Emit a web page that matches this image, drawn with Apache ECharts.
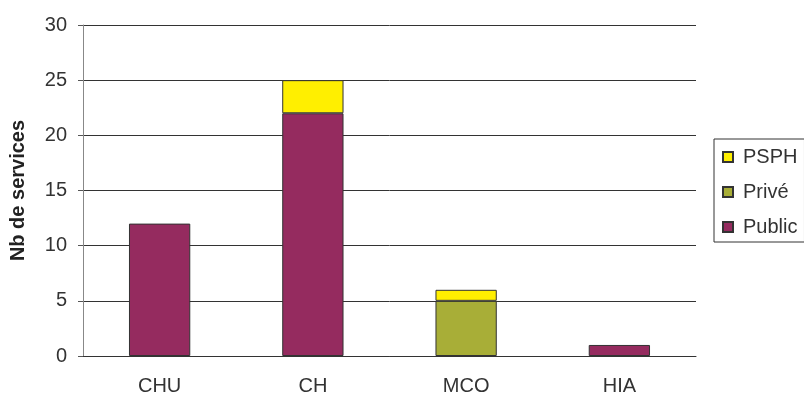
<!DOCTYPE html>
<html>
	<head>
		<meta charset="utf-8" />
		<title></title>
		<script src="https://cdn.jsdelivr.net/npm/echarts@6/dist/echarts.min.js"></script>
		<style>
			body{ margin:0; background:#fff; }
			#chart{ width:804px; height:396px; }
		</style>
	</head>
	<body>
		<div id="chart"></div>
		<script>
			// données
			var categories = ['CHU', 'CH', 'MCO', 'HIA'];
			var publicVals = [12, 22, '-', 1];
			var priveVals = ['-', '-', 5, '-'];
			var psphVals = ['-', 3, 1, '-'];
			var yTicks = { min: 0, max: 30, step: 5 };

			var font = 'Liberation Sans, Arial, sans-serif';
			var chart = echarts.init(document.getElementById('chart'));

			function barSerie(name, data, color){
				return {
					name: name,
					type: 'bar',
					stack: 'total',
					barWidth: '40%',
					data: data,
					itemStyle: { color: color, borderColor: '#333', borderWidth: 1 },
					emphasis: { disabled: true }
				};
			}

			var option = {
				animation: false,
				textStyle: { fontFamily: font },
				grid: { left: 83, right: 108, top: 25, bottom: 37 },
				legend: {
					orient: 'vertical',
					left: 714,
					top: 139,
					padding: [8, 7, 5, 8],
					itemGap: 15,
					itemWidth: 10,
					itemHeight: 10,
					icon: 'rect',
					borderColor: '#333',
					borderWidth: 1,
					data: ['PSPH', 'Privé', 'Public'],
					textStyle: { fontSize: 20, color: '#333', fontFamily: font, padding: [0, 0, 0, 5] }
				},
				xAxis: {
					type: 'category',
					data: categories,
					axisLine: { lineStyle: { color: '#333' } },
					axisTick: { length: 5, lineStyle: { color: '#333' } },
					axisLabel: { fontSize: 20, color: '#333', margin: 20, fontFamily: font }
				},
				yAxis: {
					type: 'value',
					min: yTicks.min,
					max: yTicks.max,
					interval: yTicks.step,
					name: 'Nb de services',
					nameLocation: 'middle',
					nameGap: 55,
					nameTextStyle: { fontSize: 20, fontWeight: 'bold', color: '#222', fontFamily: font },
					axisLine: { show: true, lineStyle: { color: '#888' } },
					axisTick: { show: true, length: 5, lineStyle: { color: '#555' } },
					axisLabel: { fontSize: 20, color: '#333', margin: 16, fontFamily: font },
					splitLine: { lineStyle: { color: '#333' } }
				},
				series: [
					barSerie('Public', publicVals, '#952B5F'),
					barSerie('Privé', priveVals, '#A8AE37'),
					barSerie('PSPH', psphVals, '#FFEF00')
				]
			};
			chart.setOption(option);
		</script>
	</body>
</html>
